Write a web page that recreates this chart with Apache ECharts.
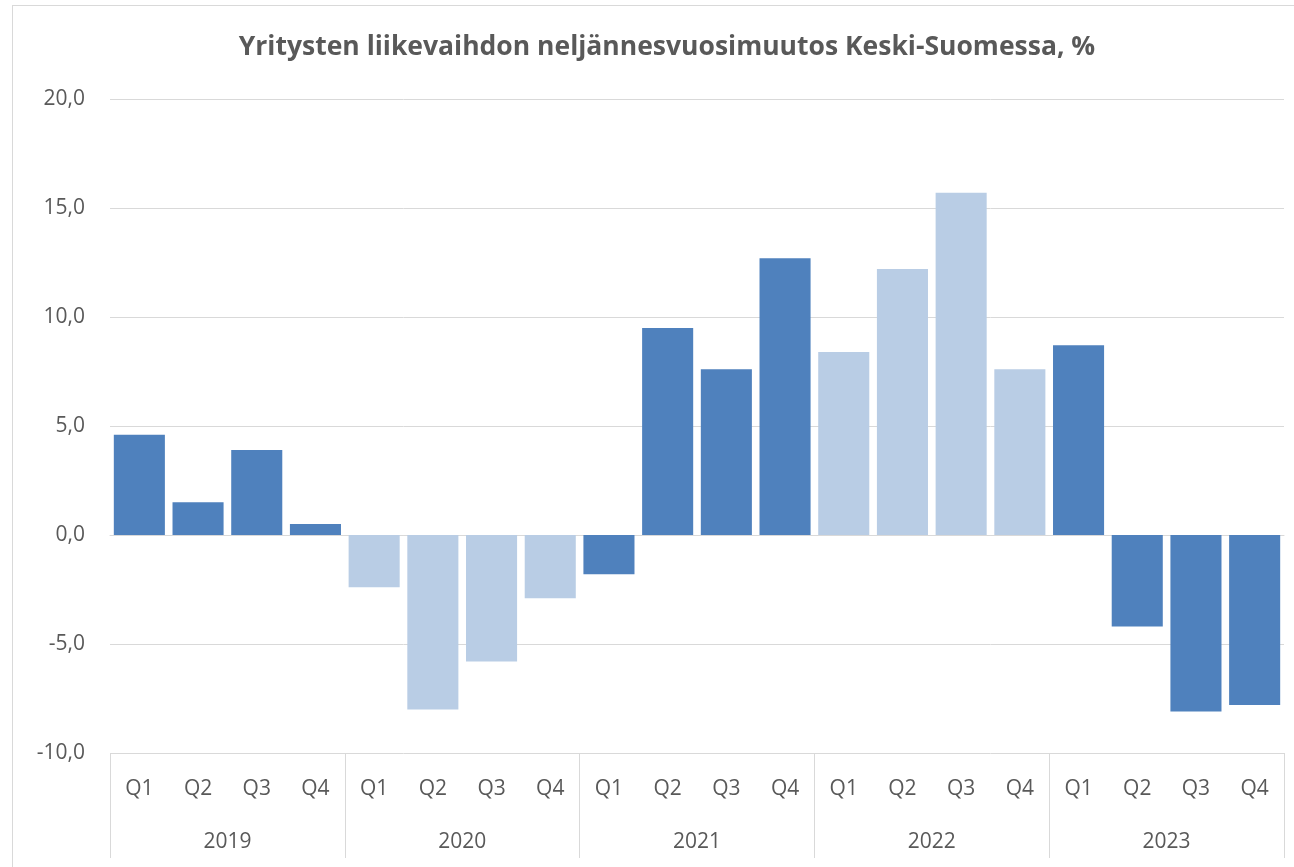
<!DOCTYPE html>
<html>
<head>
<meta charset="utf-8">
<script src="https://cdn.jsdelivr.net/npm/echarts@6/dist/echarts.min.js"></script>
<style>
html,body{margin:0;padding:0;background:#fff;}
#frame{position:absolute;left:12px;top:5px;width:1300px;height:900px;border:1px solid #d9d9d9;box-sizing:border-box;}
#chart{position:absolute;left:0;top:0;width:1294px;height:867px;}
</style>
</head>
<body>
<div id="frame"></div>
<div id="chart"></div>
<script>
const title = 'Yritysten liikevaihdon neljännesvuosimuutos Keski-Suomessa, %';
const quarters = ['Q1','Q2','Q3','Q4','Q1','Q2','Q3','Q4','Q1','Q2','Q3','Q4','Q1','Q2','Q3','Q4','Q1','Q2','Q3','Q4'];
const years = ['2019','2020','2021','2022','2023'];
const values = [4.6, 1.5, 3.9, 0.5, -2.4, -8.0, -5.8, -2.9, -1.8, 9.5, 7.6, 12.7, 8.4, 12.2, 15.7, 7.6, 8.7, -4.2, -8.1, -7.8];
const lightYears = ['2020','2022'];

const dark = '#4f81bd';
const light = '#b9cde5';
const txt = '#595959';
const font = 'Open Sans';

const data = values.map((v, i) => ({
  value: v,
  itemStyle: { color: lightYears.includes(years[Math.floor(i / 4)]) ? light : dark }
}));

const chart = echarts.init(document.getElementById('chart'), null, { renderer: 'canvas' });
chart.setOption({
  animation: false,
  title: {
    text: title,
    left: 662, top: 29, textAlign: 'center',
    textStyle: { fontFamily: font, fontSize: 26.5, fontWeight: 'bold', color: txt }
  },
  grid: { left: 110, right: 10, top: 99, bottom: 114 },
  xAxis: [
    {
      type: 'category', data: quarters, position: 'bottom',
      axisLine: { show: true, lineStyle: { color: '#d9d9d9', width: 1 } },
      axisTick: { show: false },
      axisLabel: { color: txt, fontFamily: font, fontSize: 21, margin: 26, interval: 0 },
      splitLine: { show: false }
    },
    {
      type: 'category', data: years, position: 'bottom', gridIndex: 0,
      axisLine: { show: false },
      axisTick: { show: true, length: 105, lineStyle: { color: '#d9d9d9', width: 1 } },
      axisLabel: { color: txt, fontFamily: font, fontSize: 21, margin: 79, interval: 0 },
      splitLine: { show: false }
    }
  ],
  yAxis: {
    type: 'value', min: -10, max: 20, interval: 5,
    axisLine: { show: false }, axisTick: { show: false },
    axisLabel: {
      color: txt, fontFamily: font, fontSize: 21, margin: 25,
      formatter: v => v.toFixed(1).replace('.', ',')
    },
    splitLine: { lineStyle: { color: '#d9d9d9', width: 1 } }
  },
  series: [{
    type: 'bar', data: data, xAxisIndex: 0,
    barCategoryGap: '13%'
  }]
});
</script>
</body>
</html>
